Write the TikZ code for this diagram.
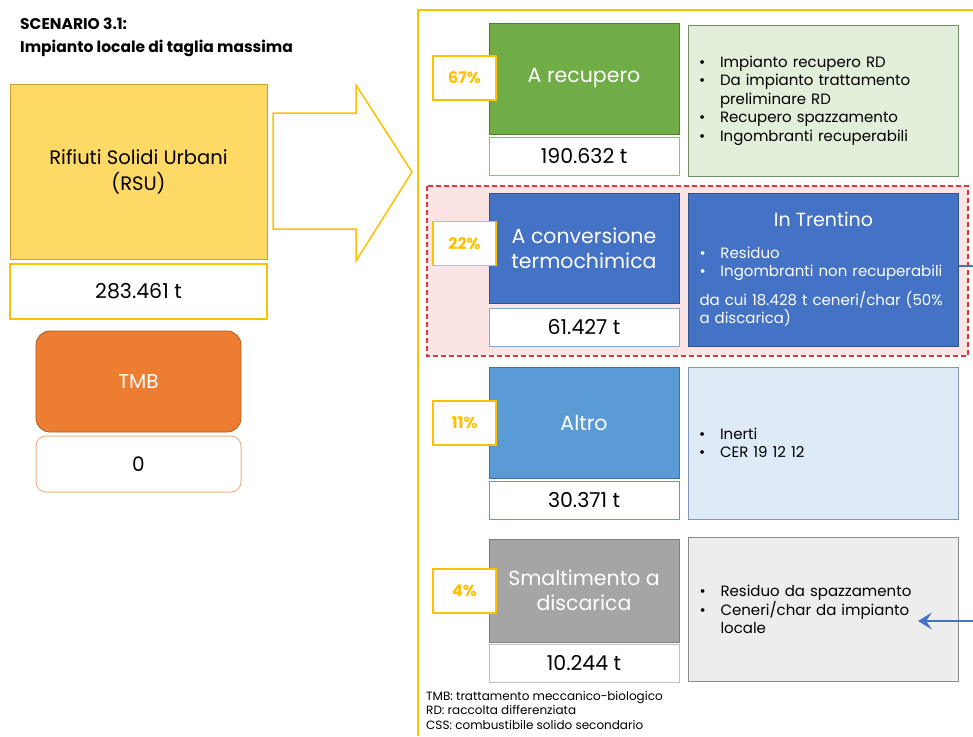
\documentclass[tikz,border=0pt]{standalone}
\usepackage{fontspec}
\setmainfont{Poppins}
\usetikzlibrary{arrows.meta}

\definecolor{gold}{HTML}{FFC000}
\definecolor{rsufill}{HTML}{FFD966}
\definecolor{rsudraw}{HTML}{C9A227}
\definecolor{tmbfill}{HTML}{ED7D31}
\definecolor{tmbdraw}{HTML}{AE5A21}
\definecolor{tmbline}{HTML}{F4B183}
\definecolor{recfill}{HTML}{70AD47}
\definecolor{recdraw}{HTML}{507E32}
\definecolor{recline}{HTML}{8CC168}
\definecolor{recdesc}{HTML}{E2EFDA}
\definecolor{recdescdraw}{HTML}{768F66}
\definecolor{convfill}{HTML}{4472C4}
\definecolor{convdraw}{HTML}{2F528F}
\definecolor{convline}{HTML}{7FA7DC}
\definecolor{altfill}{HTML}{5B9BD5}
\definecolor{altdraw}{HTML}{41719C}
\definecolor{altdesc}{HTML}{DEEBF7}
\definecolor{altdescdraw}{HTML}{7F97B2}
\definecolor{smafill}{HTML}{A5A5A5}
\definecolor{smadraw}{HTML}{7F7F7F}
\definecolor{smaline}{HTML}{BFBFBF}
\definecolor{smadesc}{HTML}{EDEDED}
\definecolor{smadescdraw}{HTML}{8C8C8C}
\definecolor{dashred}{HTML}{E0363A}
\definecolor{pinkfill}{HTML}{FCE4E4}

\newcommand{\bulletpt}{\makebox[21pt][l]{•}}
\newcommand{\bulletgap}{\hspace*{21pt}}

\begin{document}
\begin{tikzpicture}[x=1pt, y=-1pt,
  box/.style={draw, line width=0.8pt, inner sep=0pt, align=center, text=white,
    minimum width=190pt, font=\fontsize{20.5}{25}\selectfont},
  valbox/.style={draw, fill=white, line width=0.8pt, inner sep=0pt,
    minimum width=190pt, minimum height=38pt, font=\fontsize{20.5}{23}\selectfont},
  pctbox/.style={draw=gold, fill=white, line width=1.2pt, inner sep=0pt,
    minimum width=63pt, minimum height=44pt, text=gold, font=\bfseries\fontsize{16}{18}\selectfont},
  descbox/.style={draw, line width=0.8pt, minimum width=270pt, text width=248pt,
    inner xsep=11pt, inner ysep=0pt, align=left, font=\fontsize{15}{18.5}\selectfont},
  link/.style={convfill, line width=2.2pt},
]
  \useasboundingbox (0,0) rectangle (973,736);

  % -- Title --
  \node[anchor=north west, align=left, inner sep=0pt, font=\bfseries\fontsize{15.5}{23}\selectfont]
    (title) at (20,18) {SCENARIO 3.1:\\Impianto locale di taglia massima};

  % -- Input: RSU --
  \node[draw=rsudraw, fill=rsufill, line width=0.8pt, minimum width=257pt, minimum height=175pt,
    align=center, font=\fontsize{19.5}{26}\selectfont] (rsu) at (138.5,171.5)
    {Rifiuti Solidi Urbani\\(RSU)};
  \node[draw=gold, fill=white, line width=1.2pt, minimum width=257pt, minimum height=55pt,
    font=\fontsize{20.5}{23}\selectfont] (rsuval) at (138.5,291.5) {283.461 t};

  % -- TMB --
  \node[draw=tmbdraw, fill=tmbfill, line width=0.8pt, rounded corners=14pt, minimum width=205pt,
    minimum height=101pt, text=white, font=\fontsize{20}{23}\selectfont] (tmb) at (138.5,381.5) {TMB};
  \node[draw=tmbline, fill=white, line width=1pt, rounded corners=10pt, minimum width=205pt,
    minimum height=56pt, font=\fontsize{20}{23}\selectfont] (tmbval) at (138.5,464) {0};

  % -- Block arrow --
  \draw[gold, line width=1.5pt, fill=white, line join=miter]
    (273,113) -- (356,113) -- (356,85) -- (412,172) -- (356,261) -- (356,229) -- (273,229) -- cycle;

  % -- Frame of the destinations --
  \draw[gold, line width=2pt] (418,736) -- (418,10) -- (973,10);

  % -- Row 1: A recupero --
  \node[box, draw=recdraw, fill=recfill, minimum height=111pt] (rec) at (584,78.5) {A recupero};
  \node[valbox, draw=recline] (recval) at (584,156) {190.632 t};
  \node[pctbox] (recpct) at (464.5,78) {67\%};
  \node[descbox, draw=recdescdraw, fill=recdesc, minimum height=151pt] (recdesc) at (823,100.5)
    {\bulletpt Impianto recupero RD\\
     \bulletpt Da impianto trattamento\\
     \bulletgap preliminare RD\\
     \bulletpt Recupero spazzamento\\
     \bulletpt Ingombranti recuperabili};

  % -- Row 2: A conversione termochimica --
  \draw[dashred, fill=pinkfill, line width=1.2pt, dash pattern=on 5pt off 3pt]
    (427,186) rectangle (968,356);
  \node[box, draw=convdraw, fill=convfill, minimum height=110pt] (conv) at (584,248)
    {A conversione\\termochimica};
  \node[valbox, draw=convline] (convval) at (584,327) {61.427 t};
  \node[pctbox] (convpct) at (464.5,243.5) {22\%};
  \node[descbox, draw=convdraw, fill=convfill, text=white, minimum height=153pt] (convdesc) at (823.5,269.5)
    {\makebox[248pt][c]{\fontsize{19}{22}\selectfont In Trentino}\\[13pt]
     \bulletpt Residuo\\
     \bulletpt Ingombranti non recuperabili\\[10pt]
     da cui 18.428 t ceneri/char (50\%\\
     a discarica)};

  % -- Row 3: Altro --
  \node[box, draw=altdraw, fill=altfill, minimum height=111pt] (alt) at (584,422.5) {Altro};
  \node[valbox, draw=altfill] (altval) at (584,500) {30.371 t};
  \node[pctbox] (altpct) at (464.5,423) {11\%};
  \node[descbox, draw=altdescdraw, fill=altdesc, minimum height=152pt] (altdesc) at (823,443)
    {\bulletpt Inerti\\
     \bulletpt CER 19 12 12};

  % -- Row 4: Smaltimento a discarica --
  \node[box, draw=smadraw, fill=smafill, minimum height=103pt] (sma) at (584,590.5)
    {Smaltimento a\\discarica};
  \node[valbox, draw=smaline] (smaval) at (584,663.5) {10.244 t};
  \node[pctbox] (smapct) at (464.5,591) {4\%};
  \node[descbox, draw=smadescdraw, fill=smadesc, minimum height=144pt] (smadesc) at (823.5,609.5)
    {\bulletpt Residuo da spazzamento\\
     \bulletpt Ceneri/char da impianto\\
     \bulletgap locale};

  % -- Ashes going to landfill --
  \coordinate (outconv) at (973,266);
  \coordinate (insma) at (973,621);
  \coordinate (tipsma) at (918,621);
  \draw[link] (convdesc.east |- outconv) -- (outconv);
  \draw[link, -{Stealth[length=14pt, width=17pt, inset=6pt]}] (insma) -- (tipsma);

  % Legend
  \node[anchor=north west, align=left, inner sep=0pt, font=\fontsize{12}{14.5}\selectfont]
    (legend) at (426,691) {TMB: trattamento meccanico-biologico\\RD: raccolta differenziata\\CSS: combustibile solido secondario};

\end{tikzpicture}
\end{document}
